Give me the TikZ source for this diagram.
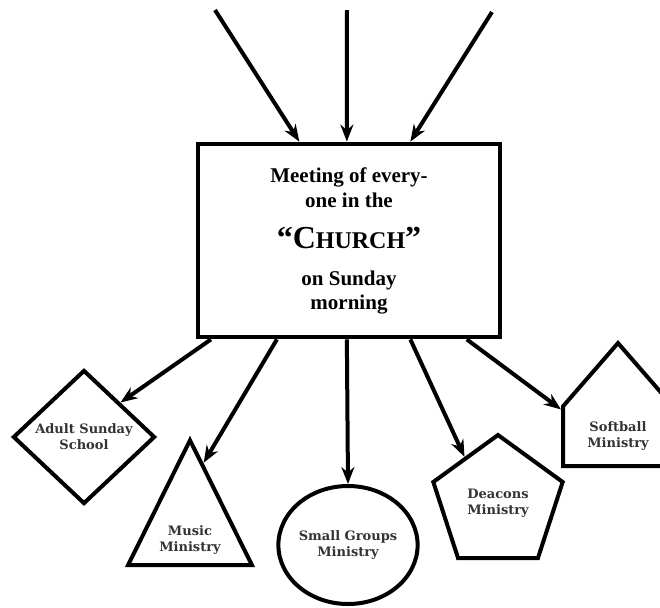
\documentclass[tikz,border=0pt]{standalone}
\usepackage{fontspec}
\setmainfont{Liberation Serif}
\newfontfamily\labelfont{DejaVu Serif}
\usetikzlibrary{arrows.meta, calc, shapes.geometric, shapes.symbols}
\tikzset{
  >={Stealth[length=8.5pt, width=6.5pt]},
  flow/.style={->, line width=2pt},
  gathering/.style={draw, line width=2.4pt, align=center,
    font=\bfseries\fontsize{10.5}{12.5}\selectfont},
  ministry/.style={draw, line width=2pt, inner sep=0pt, align=center,
    font=\labelfont\bfseries\fontsize{6.5}{8}\selectfont, text=black!80},
}

\begin{document}
\begin{tikzpicture}[x=0.5pt, y=-0.5pt]
  \useasboundingbox (0,0) rectangle (660,607);

  % the Sunday meeting
  \node[gathering, minimum width=151pt, minimum height=96.5pt] (church) at (349,240.5)
    {Meeting of every-\\one in the\\[8pt]
     {\fontsize{16}{19}\selectfont “C\fontsize{12}{14}\selectfont HURCH\fontsize{16}{19}\selectfont ”}\\[6pt]
     on Sunday\\[-0.5pt]morning};

  % ministries
  \node[ministry, diamond, minimum width=71pt, minimum height=67pt] (adult) at (84,437) {Adult Sunday\\School};
  \node[ministry, isosceles triangle, isosceles triangle stretches, shape border rotate=90,
        minimum width=62pt, minimum height=62.5pt, anchor=apex] (music) at (190,435) {Music\\Ministry};
  \node[ministry, ellipse, minimum width=69pt, minimum height=59pt] (groups) at (348,545) {Small Groups\\Ministry};
  \node[ministry, regular polygon, regular polygon sides=5, minimum size=68pt] (deacons) at (498,503) {Deacons\\Ministry};
  \node[ministry, signal, signal to=north, signal pointer angle=82,
        minimum width=55pt, minimum height=47.5pt, anchor=south] (softball) at (618,468) {Softball\\Ministry};

  % incoming
  \coordinate (in1) at (215,10);
  \coordinate (in2) at (347,10);
  \coordinate (in3) at (492,12);
  \draw[flow] (in1) -- ($(church.north west)!0.338!(church.north east)$);
  \draw[flow] (in2) -- ($(church.north west)!0.493!(church.north east)$);
  \draw[flow] (in3) -- ($(church.north west)!0.70!(church.north east)$);

  % outgoing
  \draw[flow] ($(church.south west)!0.05!(church.south east)$) -- (adult.north east);
  \draw[flow] ($(church.south west)!0.265!(church.south east)$) -- (music.80);
  \draw[flow] ($(church.south west)!0.493!(church.south east)$) -- (groups.north);
  \draw[flow] ($(church.south west)!0.70!(church.south east)$) -- (deacons.side 1);
  \draw[flow] ($(church.south west)!0.884!(church.south east)$) -- ($(softball.north west)!0.08!(softball.south west)$);
\end{tikzpicture}
\end{document}
